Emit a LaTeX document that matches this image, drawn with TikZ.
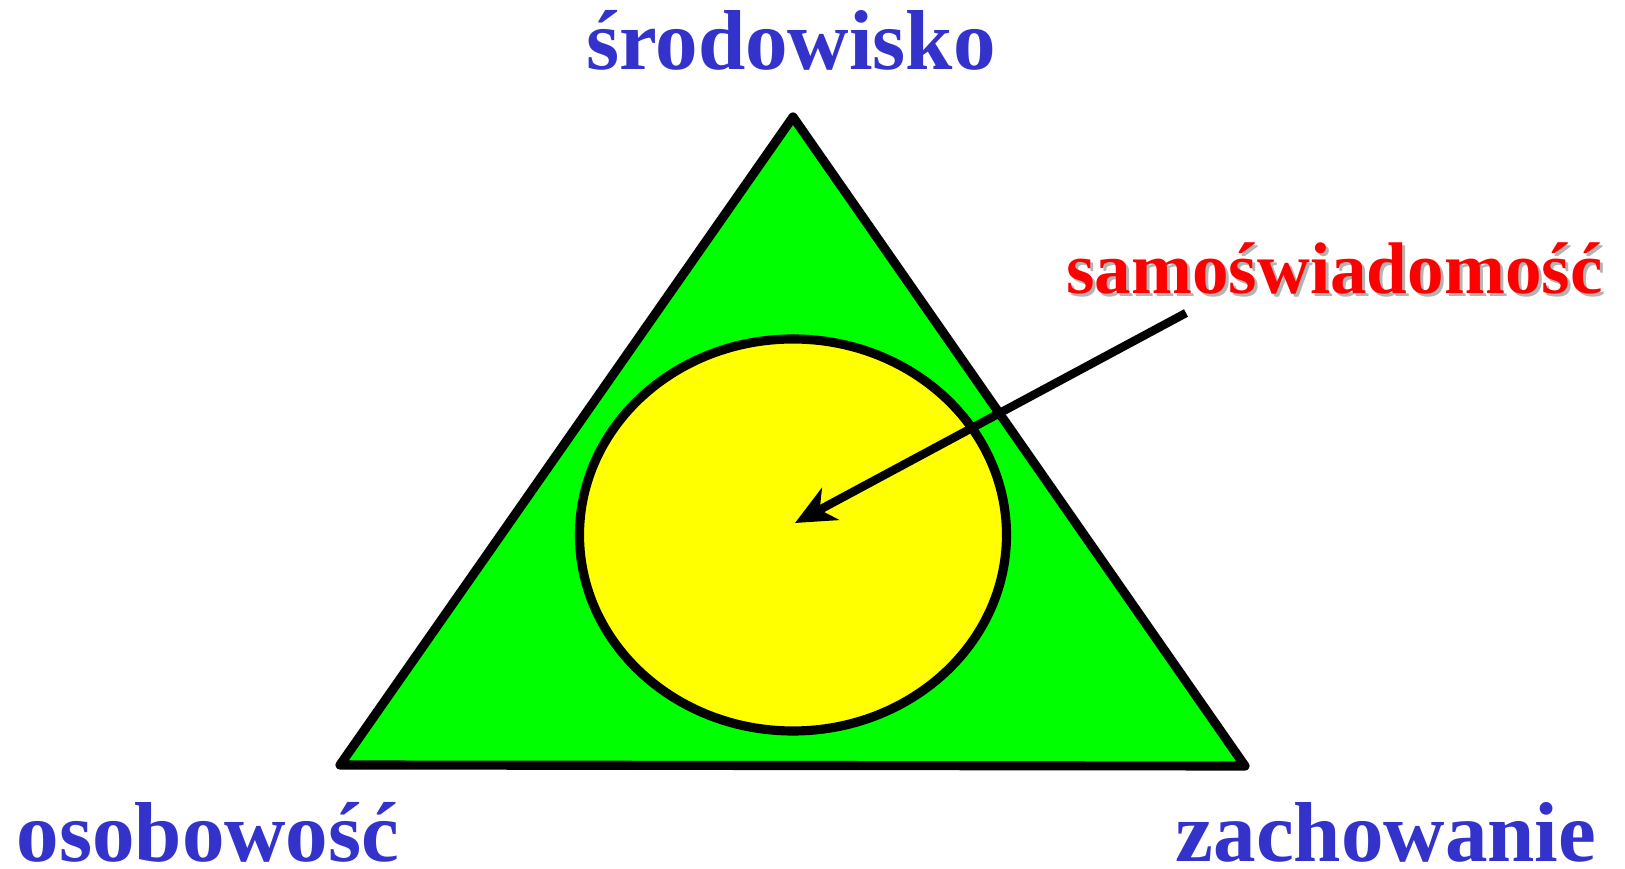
\documentclass[tikz,border=0pt]{standalone}
\usepackage{fontspec}
\setmainfont{Liberation Serif}
\usetikzlibrary{arrows.meta,shapes.geometric}
\definecolor{envblue}{HTML}{3333CC}
\definecolor{selfred}{HTML}{FF0000}
\definecolor{trigreen}{HTML}{00FF00}
\definecolor{coreyellow}{HTML}{FFFF00}
\definecolor{shadowgray}{HTML}{B4B4B4}
\tikzset{
  corner/.style={anchor=base, font=\fontsize{24.2}{28}\selectfont\bfseries, text=envblue, inner sep=0pt},
  selflabel/.style={anchor=base, font=\fontsize{20.8}{24}\selectfont\bfseries, inner sep=0pt}
}
\begin{document}
\begin{tikzpicture}
\useasboundingbox (0,0) rectangle (16.25,8.69);
% triangle corners
\coordinate (apex) at (7.93,7.52);
\coordinate (left) at (3.40,1.04);
\coordinate (right) at (12.45,1.03);
\filldraw[fill=trigreen, draw=black, line width=2.6pt, line join=round] (apex) -- (right) -- (left) -- cycle;
\node[ellipse, fill=coreyellow, draw=black, line width=2.6pt, minimum width=4.27cm, minimum height=3.92cm, inner sep=0pt] (core) at (7.93,3.34) {};
% labels
\node[corner] (env) at (7.91,7.99) {środowisko};
\node[corner] (pers) at (2.08,0.07) {osobowość};
\node[corner] (behav) at (13.86,0.07) {zachowanie};
\node[selflabel, text=shadowgray] (selfshadow) at (13.375,5.72) {samoświadomość};
\node[selflabel, text=selfred] (self) at (13.345,5.75) {samoświadomość};
% arrow
\coordinate (tail) at (11.86,5.56);
\draw[line width=2.4pt, -{Stealth[length=0.4cm, width=0.36cm, inset=0.12cm]}] (tail) -- ([shift={(0.02,0.12)}]core.center);
\end{tikzpicture}
\end{document}
